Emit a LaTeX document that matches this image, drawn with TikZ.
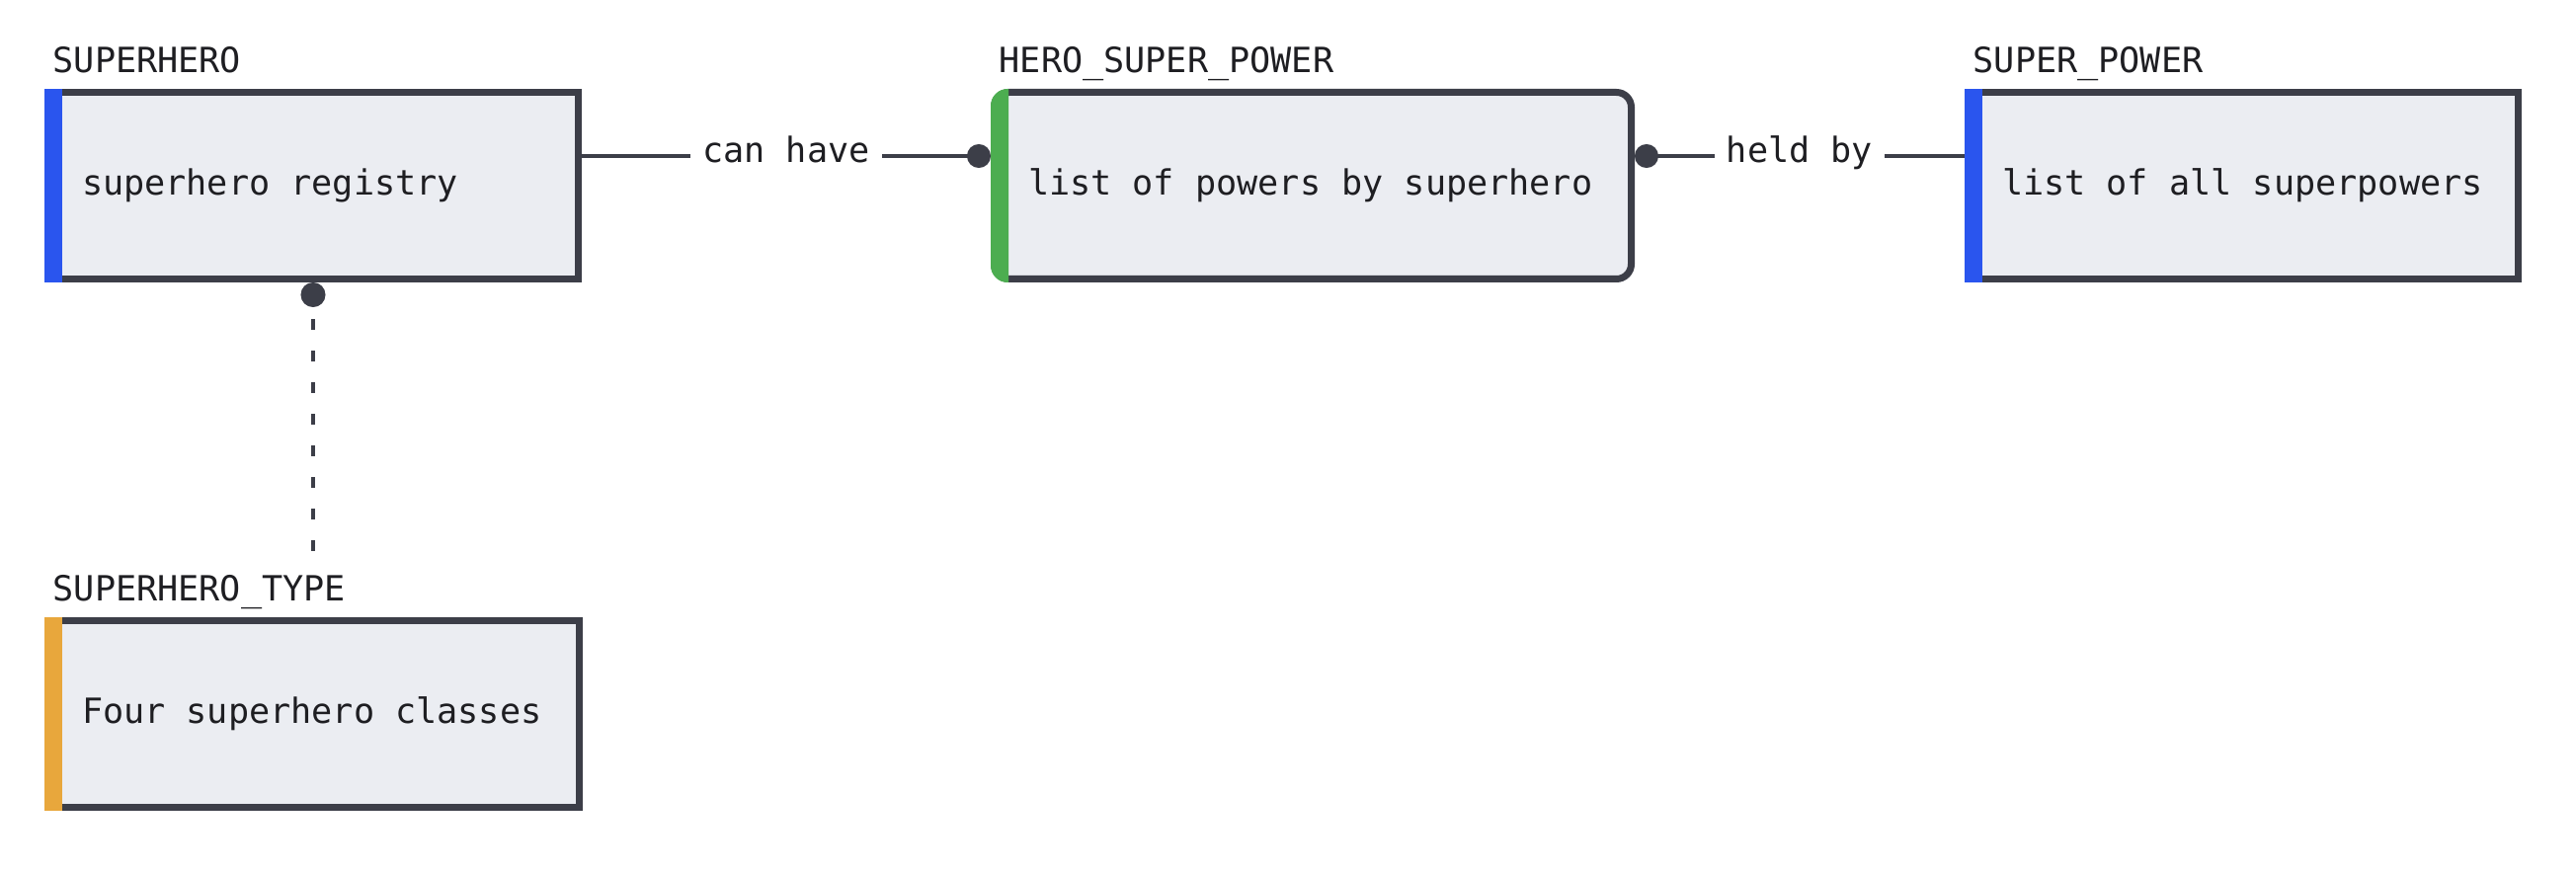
\documentclass[tikz,border=0pt]{standalone}
\usepackage{fontspec}
\setmonofont{DejaVu Sans Mono}
\usepackage{xcolor}
\usetikzlibrary{arrows.meta}

\definecolor{boxfill}{HTML}{EBEDF2}
\definecolor{boxline}{HTML}{3C3E48}
\definecolor{keyblue}{HTML}{2A55EE}
\definecolor{keygreen}{HTML}{4CAD50}
\definecolor{keyorange}{HTML}{E8A73C}
\definecolor{inkdark}{HTML}{1E1E22}

\begin{document}
\begin{tikzpicture}[
    font=\ttfamily\fontsize{10}{12}\selectfont,
    entity/.style={draw=boxline, fill=boxfill, line width=0.07cm,
        minimum height=1.89cm, inner xsep=0.345cm, text=inkdark,
        execute at begin node={\spaceskip=0pt\xspaceskip=0pt\relax}},
    entname/.style={anchor=base west, fill=white, inner sep=0.04cm, text=inkdark},
    rel/.style={draw=boxline, line width=0.035cm},
    rellabel/.style={fill=white, inner xsep=0.12cm, inner ysep=0.06cm,
        anchor=base, yshift=-0.07cm, text=inkdark},
]

    % Frame
    \useasboundingbox (0,0) rectangle (26.08,-8.84);

    % Entities
    \node[entity, text width=4.68cm] (superhero) at (3.17,-1.88) {superhero registry};
    \node[entity, text width=5.76cm, rounded corners=0.15cm] (heropower) at (13.29,-1.88) {list of powers by superhero};
    \node[entity, text width=4.88cm] (superpower) at (22.71,-1.88) {list of all superpowers};
    \node[entity, text width=4.69cm] (herotype) at (3.175,-7.23) {Four superhero classes};

    % Key stripes
    \fill[keyblue] (superhero.north west) rectangle ([xshift=0.18cm]superhero.south west);
    \fill[keygreen] ([xshift=0.18cm]heropower.north west)
        [rounded corners=0.17cm] -- (heropower.north west) -- (heropower.south west)
        [sharp corners] -- ([xshift=0.18cm]heropower.south west) -- cycle;
    \fill[keyblue] (superpower.north west) rectangle ([xshift=0.18cm]superpower.south west);
    \fill[keyorange] (herotype.north west) rectangle ([xshift=0.18cm]herotype.south west);

    % Entity names
    \node[entname] (superheroname) at ([xshift=0.04cm,yshift=0.165cm]superhero.north west) {SUPERHERO};
    \node[entname] (heropowername) at ([xshift=0.04cm,yshift=0.165cm]heropower.north west) {HERO\_SUPER\_POWER};
    \node[entname] (superpowername) at ([xshift=0.04cm,yshift=0.165cm]superpower.north west) {SUPER\_POWER};
    \node[entname] (herotypename) at ([xshift=0.04cm,yshift=0.165cm]herotype.north west) {SUPERHERO\_TYPE};

    % Relationships
    \draw[rel, -{Circle[length=0.24cm]}] ([yshift=0.3cm]superhero.east)
        -- node[rellabel] {can have} ([yshift=0.3cm]heropower.west);
    \draw[rel, {Circle[length=0.24cm]}-] ([yshift=0.3cm]heropower.east)
        -- node[rellabel] {held by} ([yshift=0.3cm]superpower.west);
    \draw[rel, dash pattern=on 0.11cm off 0.21cm, dash phase=0.18cm, {Circle[length=0.25cm]}-]
        (superhero.south) -- (superhero.south |- herotypename.north);

\end{tikzpicture}
\end{document}
